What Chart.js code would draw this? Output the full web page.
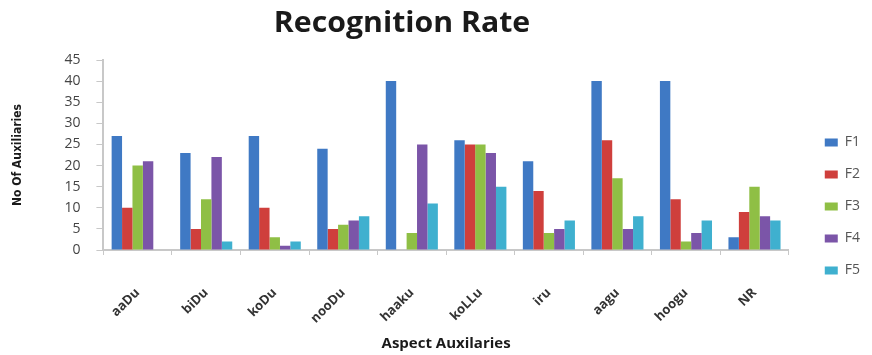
<!DOCTYPE html>
<html>
<head>
<meta charset="utf-8">
<script src="https://cdn.jsdelivr.net/npm/chart.js@4/dist/chart.umd.min.js"></script>
<style>
  body { margin: 0; background: #fff; }
  #wrap { width: 872px; height: 355px; }
</style>
</head>
<body>
<div id="wrap"><canvas id="rate" width="872" height="355"></canvas></div>
<script>
const categories = ['aaDu', 'biDu', 'koDu', 'nooDu', 'haaku', 'koLLu', 'iru', 'aagu', 'hoogu', 'NR'];
const f1 = [27, 23, 27, 24, 40, 26, 21, 40, 40, 3];
const f2 = [10, 5, 10, 5, 0, 25, 14, 26, 12, 9];
const f3 = [20, 12, 3, 6, 4, 25, 4, 17, 2, 15];
const f4 = [21, 22, 1, 7, 25, 23, 5, 5, 4, 8];
const f5 = [0, 2, 2, 8, 11, 15, 7, 8, 7, 7];
const yTicks = [0, 5, 10, 15, 20, 25, 30, 35, 40, 45];

const colors = ['#3f79c4', '#cf3f3c', '#8fbf45', '#7b55a8', '#3fb0cf'];
const names = ['F1', 'F2', 'F3', 'F4', 'F5'];
const series = [f1, f2, f3, f4, f5];

// title drawn a bit left of canvas centre, as in the original
const titlePlugin = {
  id: 'bigTitle',
  afterDraw(chart) {
    const c = chart.ctx;
    c.save();
    c.translate(402, 24);
    c.scale(1.08, 1);
    c.font = 'bold 28px "Open Sans"';
    c.fillStyle = '#1a1a1a';
    c.textAlign = 'center';
    c.textBaseline = 'middle';
    c.fillText('Recognition Rate', 0, 0);
    c.restore();
  }
};

const ctx = document.getElementById('rate');

const chart = new Chart(ctx, {
  type: 'bar',
  data: {
    labels: categories,
    datasets: series.map((d, i) => ({
      label: names[i],
      data: d,
      backgroundColor: colors[i],
      borderWidth: 0,
      categoryPercentage: 0.76,
      barPercentage: 1.0
    }))
  },
  options: {
    responsive: false,
    animation: false,
    layout: { padding: { top: 60, left: 11, right: 2, bottom: 2 } },
    plugins: {
      legend: {
        position: 'right',
        labels: {
          boxWidth: 13,
          boxHeight: 8,
          padding: 18,
          color: '#555',
          font: { family: 'Open Sans', size: 14 }
        }
      },
      tooltip: { enabled: false }
    },
    scales: {
      x: {
        grid: { display: true, drawOnChartArea: false, offset: true, tickLength: 5, color: '#c8c8c8' },
        border: { color: '#c8c8c8', width: 2 },
        ticks: {
          minRotation: 45,
          maxRotation: 45,
          color: '#333',
          font: { family: 'Open Sans', size: 13, weight: 'bold' },
          padding: 30
        },
        title: {
          display: true,
          text: 'Aspect Auxilaries',
          color: '#1a1a1a',
          font: { family: 'Open Sans', size: 15, weight: 'bold' },
          padding: { top: 4, bottom: 0 }
        },
        afterFit(scale) { scale.height = 103; }
      },
      y: {
        min: 0,
        max: 45,
        afterBuildTicks(scale) {
          scale.ticks = yTicks.map(v => ({ value: v }));
        },
        grid: { display: true, drawOnChartArea: false, tickLength: 7, color: '#c8c8c8' },
        border: { color: '#c8c8c8', width: 2 },
        ticks: {
          color: '#444',
          font: { family: 'Open Sans', size: 14 },
          padding: 16
        },
        title: {
          display: true,
          text: 'No Of Auxiliaries',
          color: '#1a1a1a',
          font: { family: 'DejaVu Sans Condensed', size: 12, weight: 'bold' },
          padding: { top: 0, bottom: 23 }
        }
      },
      // empty axis, only keeps a gap between plot and legend
      gap: {
        position: 'right',
        display: true,
        grid: { display: false },
        border: { display: false },
        ticks: { display: false },
        afterFit(scale) { scale.width = 18; }
      }
    }
  },
  plugins: [titlePlugin]
});
</script>
</body>
</html>
